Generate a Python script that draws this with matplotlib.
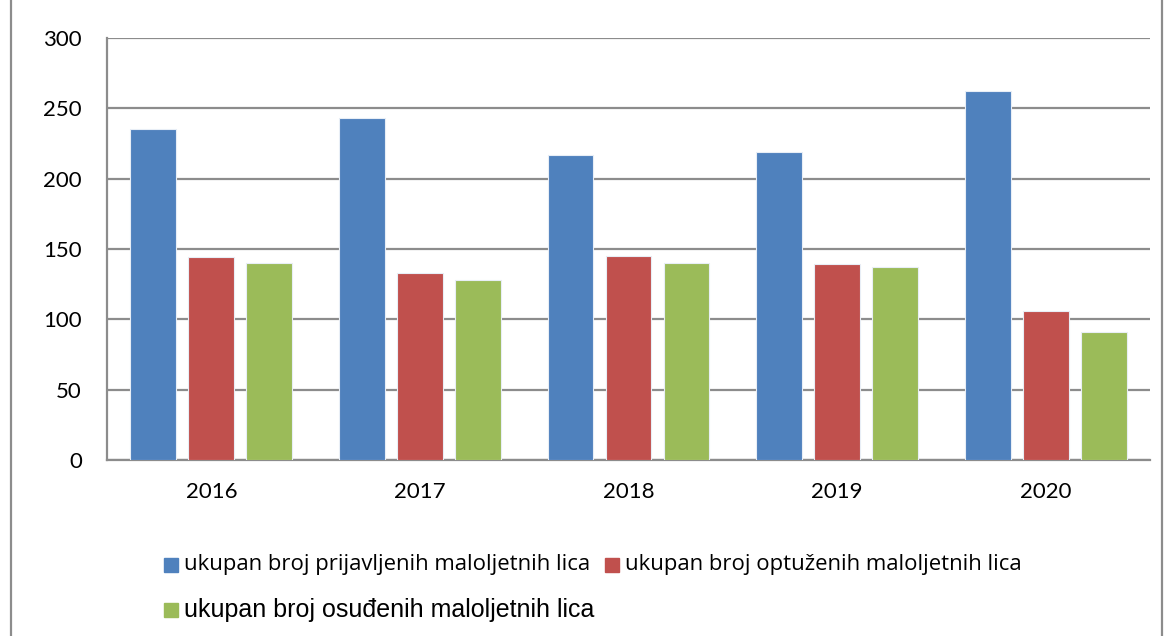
import numpy as np
import matplotlib.pyplot as plt
from matplotlib.patches import Rectangle

# podaci
godine = ["2016", "2017", "2018", "2019", "2020"]
prijavljeni = [235, 243, 217, 219, 262]
optuzeni = [144, 133, 145, 139, 106]
osudjeni = [140, 128, 140, 137, 91]

serije = [
    ("ukupan broj prijavljenih maloljetnih lica", prijavljeni, "#4F81BD"),
    ("ukupan broj optuženih maloljetnih lica", optuzeni, "#C0504D"),
    ("ukupan broj osuđenih maloljetnih lica", osudjeni, "#9BBB59"),
]

fig = plt.figure(figsize=(11.66, 6.36), dpi=100)
ax = fig.add_axes([0.0918, 0.2767, 0.8945, 0.6636])

x = np.arange(len(godine))
w = 0.22
pomak = [-0.278, 0, 0.278]
for (naziv, vrijednosti, boja), p in zip(serije, pomak):
    ax.bar(x + p, vrijednosti, width=w, color=boja, edgecolor="#e8eef6",
           linewidth=0.8, zorder=3)

ax.set_xlim(-0.5, len(godine) - 0.5)
ax.set_ylim(0, 300)
ax.set_yticks(range(0, 301, 50))
ax.set_xticks(x)
ax.set_xticklabels(godine)
ax.yaxis.grid(True, color="#8c8c8c", linewidth=1.6, zorder=0)
ax.tick_params(axis="both", length=0, labelsize=16)
ax.tick_params(axis="y", pad=18)
ax.tick_params(axis="x", pad=16)
for lbl in ax.get_xticklabels() + ax.get_yticklabels():
    lbl.set_fontfamily("Lato")
for s in ["top", "right"]:
    ax.spines[s].set_visible(False)
for s in ["left", "bottom"]:
    ax.spines[s].set_color("#8c8c8c")
    ax.spines[s].set_linewidth(1.6)

# okvir grafikona
fig.patches.append(Rectangle((11 / 1166, -0.1), (1162 - 11) / 1166, 1.2,
                             transform=fig.transFigure, fill=False,
                             edgecolor="#8c8c8c", linewidth=1.6))

# legenda
legenda = [(164, 564.5, 15.9, "Open Sans"), (605, 564.5, 15.9, "Open Sans"),
           (164, 609.5, 18, "Liberation Sans")]
for (naziv, vrijednosti, boja), (px, py, fs, fam) in zip(serije, legenda):
    fig.patches.append(Rectangle((px / 1166, 1 - (py + 7) / 636), 14 / 1166, 14 / 636,
                                 transform=fig.transFigure, color=boja))
    fig.text((px + 20) / 1166, 1 - py / 636, naziv, fontsize=fs,
             family=fam, va="center", ha="left")

fig.savefig("out.png", dpi=100)
